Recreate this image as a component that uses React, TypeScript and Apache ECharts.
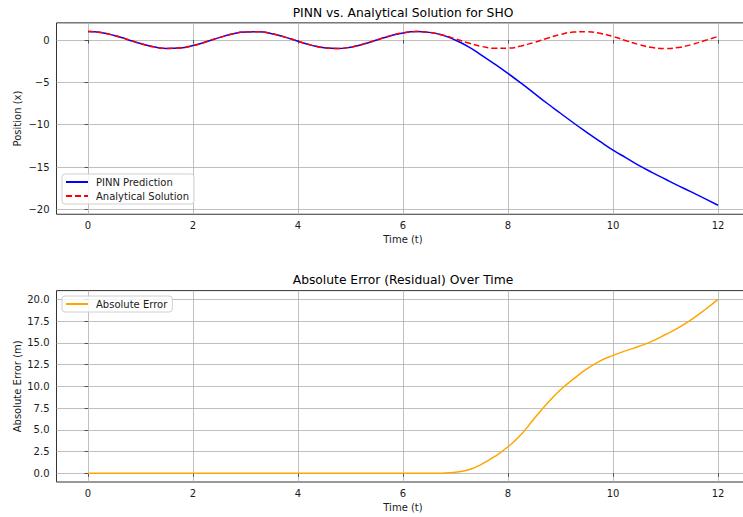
import React, { useEffect, useRef } from "react";
import * as echarts from "echarts";

const time = [
  0, 0.25, 0.5, 0.75, 1, 1.25, 1.5, 1.75, 2, 2.25, 2.5, 2.75, 3, 3.25, 3.5, 3.75,
  4, 4.25, 4.5, 4.75, 5, 5.25, 5.5, 5.75, 6, 6.25, 6.5, 6.75, 7, 7.25, 7.5, 7.75,
  8, 8.25, 8.5, 8.75, 9, 9.25, 9.5, 9.75, 10, 10.25, 10.5, 10.75, 11, 11.25, 11.5, 11.75, 12,
];

const analytical = [
  1, 0.878, 0.54, 0.071, -0.416, -0.801, -0.99, -0.936, -0.654, -0.211, 0.284, 0.709,
  0.96, 0.977, 0.754, 0.347, -0.146, -0.602, -0.911, -0.997, -0.839, -0.476, 0.004, 0.483,
  0.844, 0.998, 0.907, 0.595, 0.137, -0.355, -0.76, -0.978, -0.958, -0.704, -0.275, 0.22,
  0.66, 0.939, 0.989, 0.796, 0.408, -0.081, -0.548, -0.883, -1.0, -0.874, -0.533, -0.062, 0.424,
];

const pinn = [
  1, 0.878, 0.54, 0.071, -0.416, -0.801, -0.99, -0.936, -0.654, -0.211, 0.284, 0.709,
  0.96, 0.977, 0.754, 0.347, -0.146, -0.602, -0.911, -0.997, -0.839, -0.476, 0.004, 0.483,
  0.844, 0.998, 0.905, 0.58, -0.02, -0.8, -1.8, -2.85, -3.95, -5.1, -6.3, -7.5,
  -8.65, -9.8, -10.9, -11.97, -13.0, -13.92, -14.84, -15.66, -16.45, -17.22, -17.97, -18.74, -19.52,
];

const absError = [
  0, 0, 0, 0, 0, 0, 0, 0, 0, 0, 0, 0, 0, 0, 0, 0, 0, 0, 0, 0, 0, 0, 0, 0, 0, 0, 0,
  0.02, 0.12, 0.4, 1.05, 1.95, 3.05, 4.45, 6.3, 8.05, 9.6, 10.85, 12.0, 12.9, 13.55,
  14.1, 14.6, 15.2, 15.95, 16.75, 17.7, 18.8, 20.0,
];

const xTicks = [0, 2, 4, 6, 8, 10, 12];
const posTicks = [-20, -15, -10, -5, 0];
const errTicks = [0, 2.5, 5, 7.5, 10, 12.5, 15, 17.5, 20];

const FONT = "DejaVu Sans";
const TXT = "#1a1a1a";

export default function App() {
  const ref = useRef<HTMLDivElement>(null);
  useEffect(() => {
    if (!ref.current) return;
    const chart = echarts.init(ref.current, null, { renderer: "svg" });
    const gridBase = {
      left: 56.5,
      width: 693,
      height: 191.4,
      outerBoundsMode: "none",
      containLabel: false,
      show: true,
      borderColor: "#333",
      borderWidth: 1,
      backgroundColor: "transparent",
    };
    const xAxisBase = (gi: number) => ({
      type: "value",
      gridIndex: gi,
      min: -0.6,
      max: 12.6,
      name: "Time (t)",
      nameLocation: "middle",
      nameGap: 20,
      nameMoveOverlap: false,
      nameTextStyle: { fontFamily: FONT, fontSize: 10, color: TXT },
      axisLine: { show: false },
      axisTick: { show: true, length: 3.5, lineStyle: { color: "#333", width: 0.8 }, customValues: xTicks },
      axisLabel: {
        customValues: xTicks,
        fontFamily: FONT,
        fontSize: 10,
        color: TXT,
        margin: 6,
        formatter: (v: number) => String(v),
      },
      splitLine: { show: true, lineStyle: { color: "#b0b0b0", width: 0.8 } },
    });
    const yAxisBase = (gi: number) => ({
      type: "value",
      gridIndex: gi,
      nameLocation: "middle",
      nameGap: 34,
      nameMoveOverlap: false,
      nameTextStyle: { fontFamily: FONT, fontSize: 10, color: TXT },
      axisLine: { show: false },
      splitLine: { show: true, lineStyle: { color: "#b0b0b0", width: 0.8 } },
    });
    const option: any = {
      animation: false,
      backgroundColor: "#ffffff",
      grid: [
        { ...gridBase, top: 22.85 },
        { ...gridBase, top: 290.6 },
      ],
      xAxis: [xAxisBase(0), xAxisBase(1)],
      yAxis: [
        {
          ...yAxisBase(0),
          min: -20.58,
          max: 2.03,
          name: "Position (x)",
          axisTick: { show: true, length: 3.5, lineStyle: { color: "#333", width: 0.8 }, customValues: posTicks },
          axisLabel: {
            customValues: posTicks,
            fontFamily: FONT,
            fontSize: 10,
            color: TXT,
            margin: 7,
            formatter: (v: number) => (v < 0 ? "\u2212" + Math.abs(v) : String(v)),
          },
        },
        {
          ...yAxisBase(1),
          min: -1,
          max: 21,
          name: "Absolute Error (m)",
          axisTick: { show: true, length: 3.5, lineStyle: { color: "#333", width: 0.8 }, customValues: errTicks },
          axisLabel: {
            customValues: errTicks,
            fontFamily: FONT,
            fontSize: 10,
            color: TXT,
            margin: 7,
            formatter: (v: number) => v.toFixed(1),
          },
        },
      ],
      legend: [
        {
          data: ["PINN Prediction", "Analytical Solution"],
          orient: "vertical",
          left: 62,
          top: 174,
          itemWidth: 22,
          itemHeight: 12,
          itemGap: 4,
          padding: [3, 5, 3, 3],
          backgroundColor: "rgba(255,255,255,0.8)",
          borderColor: "#d0d0d0",
          borderWidth: 1,
          borderRadius: 3,
          selectedMode: false,
          itemStyle: { opacity: 0 },
          textStyle: { fontFamily: FONT, fontSize: 10, color: TXT, padding: [0, 0, 0, 3] },
        },
        {
          data: ["Absolute Error"],
          orient: "vertical",
          left: 62,
          top: 296,
          itemWidth: 22,
          itemHeight: 12,
          itemGap: 4,
          padding: [3, 5, 3, 3],
          backgroundColor: "rgba(255,255,255,0.8)",
          borderColor: "#d0d0d0",
          borderWidth: 1,
          borderRadius: 3,
          selectedMode: false,
          itemStyle: { opacity: 0 },
          textStyle: { fontFamily: FONT, fontSize: 10, color: TXT, padding: [0, 0, 0, 3] },
        },
      ],
      graphic: [
        {
          type: "text",
          x: 403,
          y: 12.5,
          style: {
            text: "PINN vs. Analytical Solution for SHO",
            fontFamily: FONT,
            fontSize: 12.3,
            fill: "#000",
            textAlign: "center",
            textVerticalAlign: "middle",
          },
        },
        {
          type: "text",
          x: 403,
          y: 280,
          style: {
            text: "Absolute Error (Residual) Over Time",
            fontFamily: FONT,
            fontSize: 12.3,
            fill: "#000",
            textAlign: "center",
            textVerticalAlign: "middle",
          },
        },
      ],
      series: [
        {
          type: "line",
          name: "PINN Prediction",
          xAxisIndex: 0,
          yAxisIndex: 0,
          data: time.map((t, i) => [t, pinn[i]]),
          smooth: true,
          symbol: "none",
          lineStyle: { color: "#0000ff", width: 1.5 },
          itemStyle: { color: "#0000ff" },
          z: 3,
        },
        {
          type: "line",
          name: "Analytical Solution",
          xAxisIndex: 0,
          yAxisIndex: 0,
          data: time.map((t, i) => [t, analytical[i]]),
          smooth: true,
          symbol: "none",
          lineStyle: { color: "#ff0000", width: 1.5, type: [6, 3] },
          itemStyle: { color: "#ff0000" },
          z: 4,
        },
        {
          type: "line",
          name: "Absolute Error",
          xAxisIndex: 1,
          yAxisIndex: 1,
          data: time.map((t, i) => [t, absError[i]]),
          smooth: true,
          symbol: "none",
          lineStyle: { color: "#ffa500", width: 1.5 },
          itemStyle: { color: "#ffa500" },
          z: 3,
        },
      ],
    };
    chart.setOption(option);
    return () => chart.dispose();
  }, []);
  return (
    <div
      ref={ref}
      style={{ position: "fixed", left: 0, top: 0, width: 743, height: 517 }}
    />
  );
}
